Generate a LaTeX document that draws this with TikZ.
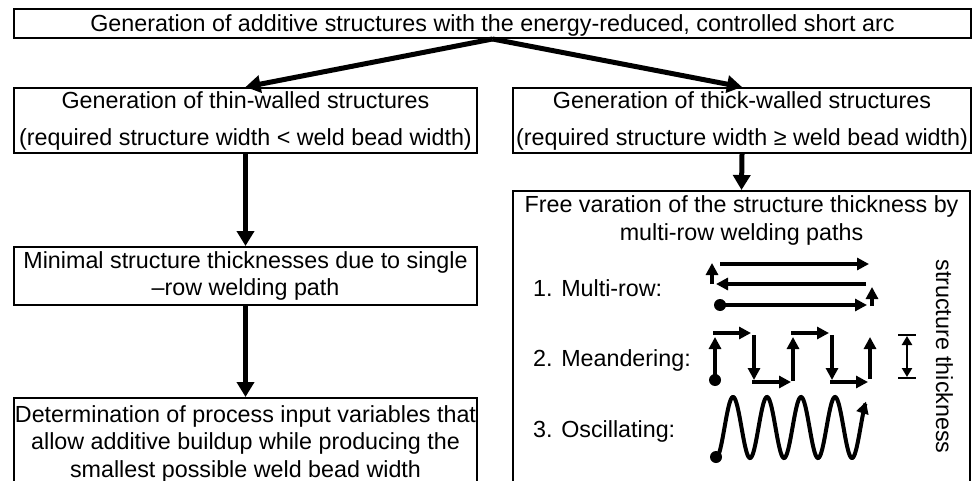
\documentclass[tikz,border=0pt]{standalone}
\usepackage{fontspec}
\setmainfont{Liberation Sans}
\usetikzlibrary{arrows.meta}
\newcommand\fsn{\fontsize{23.3}{27.5}\selectfont}
\newcommand\fsw{\fontsize{23.3}{37}\selectfont}
\tikzset{
  box/.style={draw, line width=2pt, inner sep=0pt, align=center, font=\fsn},
  lbl/.style={inner sep=0pt, font=\fsn, anchor=base west},
  bigarrow/.style={line width=5pt, -{Triangle[length=15pt,width=17pt]}},
  patharrow/.style={line width=4pt, -{Triangle[length=12pt,width=12pt]}},
  dimline/.style={line width=2.5pt, {Triangle[length=9pt,width=10pt]}-{Triangle[length=9pt,width=10pt]}},
  capline/.style={line width=2.5pt},
}
\begin{document}
\begin{tikzpicture}[x=1pt,y=-1pt]
\path[use as bounding box] (0,0) rectangle (973,481);
\fill[white] (0,0) rectangle (973,481);
\clip (0,0) rectangle (973,481);

% boxes
\node[box, minimum width=957pt, minimum height=29pt, text height=22pt, text depth=5pt] (top) at (492.5,23.5)
  {Generation of additive structures with the energy-reduced, controlled short arc};
\node[box, font=\fsw, minimum width=463pt, minimum height=65pt] (thin) at (245.5,120.5)
  {Generation of thin-walled structures\\(required structure width < weld bead width)};
\node[box, font=\fsw, minimum width=458pt, minimum height=65pt] (thick) at (742,120.5)
  {Generation of thick-walled structures\\(required structure width ≥ weld bead width)};
\node[box, minimum width=463pt, minimum height=58pt] (mid) at (245.5,276)
  {Minimal structure thicknesses due to single\\–row welding path};
\node[box, minimum width=463pt, minimum height=91pt] (det) at (245.5,443.5)
  {Determination of process input variables that\\allow additive buildup while producing the\\smallest possible weld bead width};
\node[box, minimum width=457pt, minimum height=309pt] (free) at (741.5,345.5) {};
\node[inner sep=0pt, align=center, font=\fsn] (freetxt) at (741.5,220.5)
  {Free varation of the structure thickness by\\multi-row welding paths};

% connectors
\draw[bigarrow] (top.south) -- (thin.north);
\draw[bigarrow] (top.south) -- (thick.north);
\draw[bigarrow] (thin.south) -- (mid.north);
\draw[bigarrow] (mid.south) -- (det.north);
\draw[bigarrow] (thick.south) -- (free.north);

% labels
\node[lbl] (l1) at (533,296) {1. Multi-row:};
\node[lbl] (l2) at (533,366.5) {2. Meandering:};
\node[lbl] (l3) at (533,437.5) {3. Oscillating:};
\node[inner sep=0pt, font=\fsn, rotate=-90, anchor=base] (st) at (936,356.5) {structure thickness};

% multi-row icon
\fill (720,305) circle (6pt);
\draw[patharrow] (720,305) -- (867,305);
\draw[patharrow] (872,306) -- (872,287);
\draw[patharrow] (866,284) -- (716,284);
\draw[patharrow] (712,284) -- (712,263);
\draw[patharrow] (720,264) -- (869,264);

% meandering icon
\fill (715,380) circle (6pt);
\draw[patharrow] (715,380) -- (715,337);
\draw[patharrow] (713,333) -- (751,333);
\draw[patharrow] (754,335) -- (754,380);
\draw[patharrow] (752,382) -- (791,382);
\draw[patharrow] (793,381) -- (793,337);
\draw[patharrow] (791,333) -- (829,333);
\draw[patharrow] (832,335) -- (832,380);
\draw[patharrow] (830,382) -- (868,382);
\draw[patharrow] (870,379) -- (870,337);

% dimension bar
\draw[capline] (898,335) -- (916,335);
\draw[capline] (898,378) -- (916,378);
\draw[dimline] (907,336) -- (907,377);

% oscillating icon
\fill (716,457) circle (6pt);
\draw[line width=4pt, -{Triangle[length=12pt,width=12pt]}]
  plot[domain=716:866, samples=200, smooth] (\x, {427.5+30.5*cos((\x-716)*10.5882)});
\end{tikzpicture}
\end{document}
